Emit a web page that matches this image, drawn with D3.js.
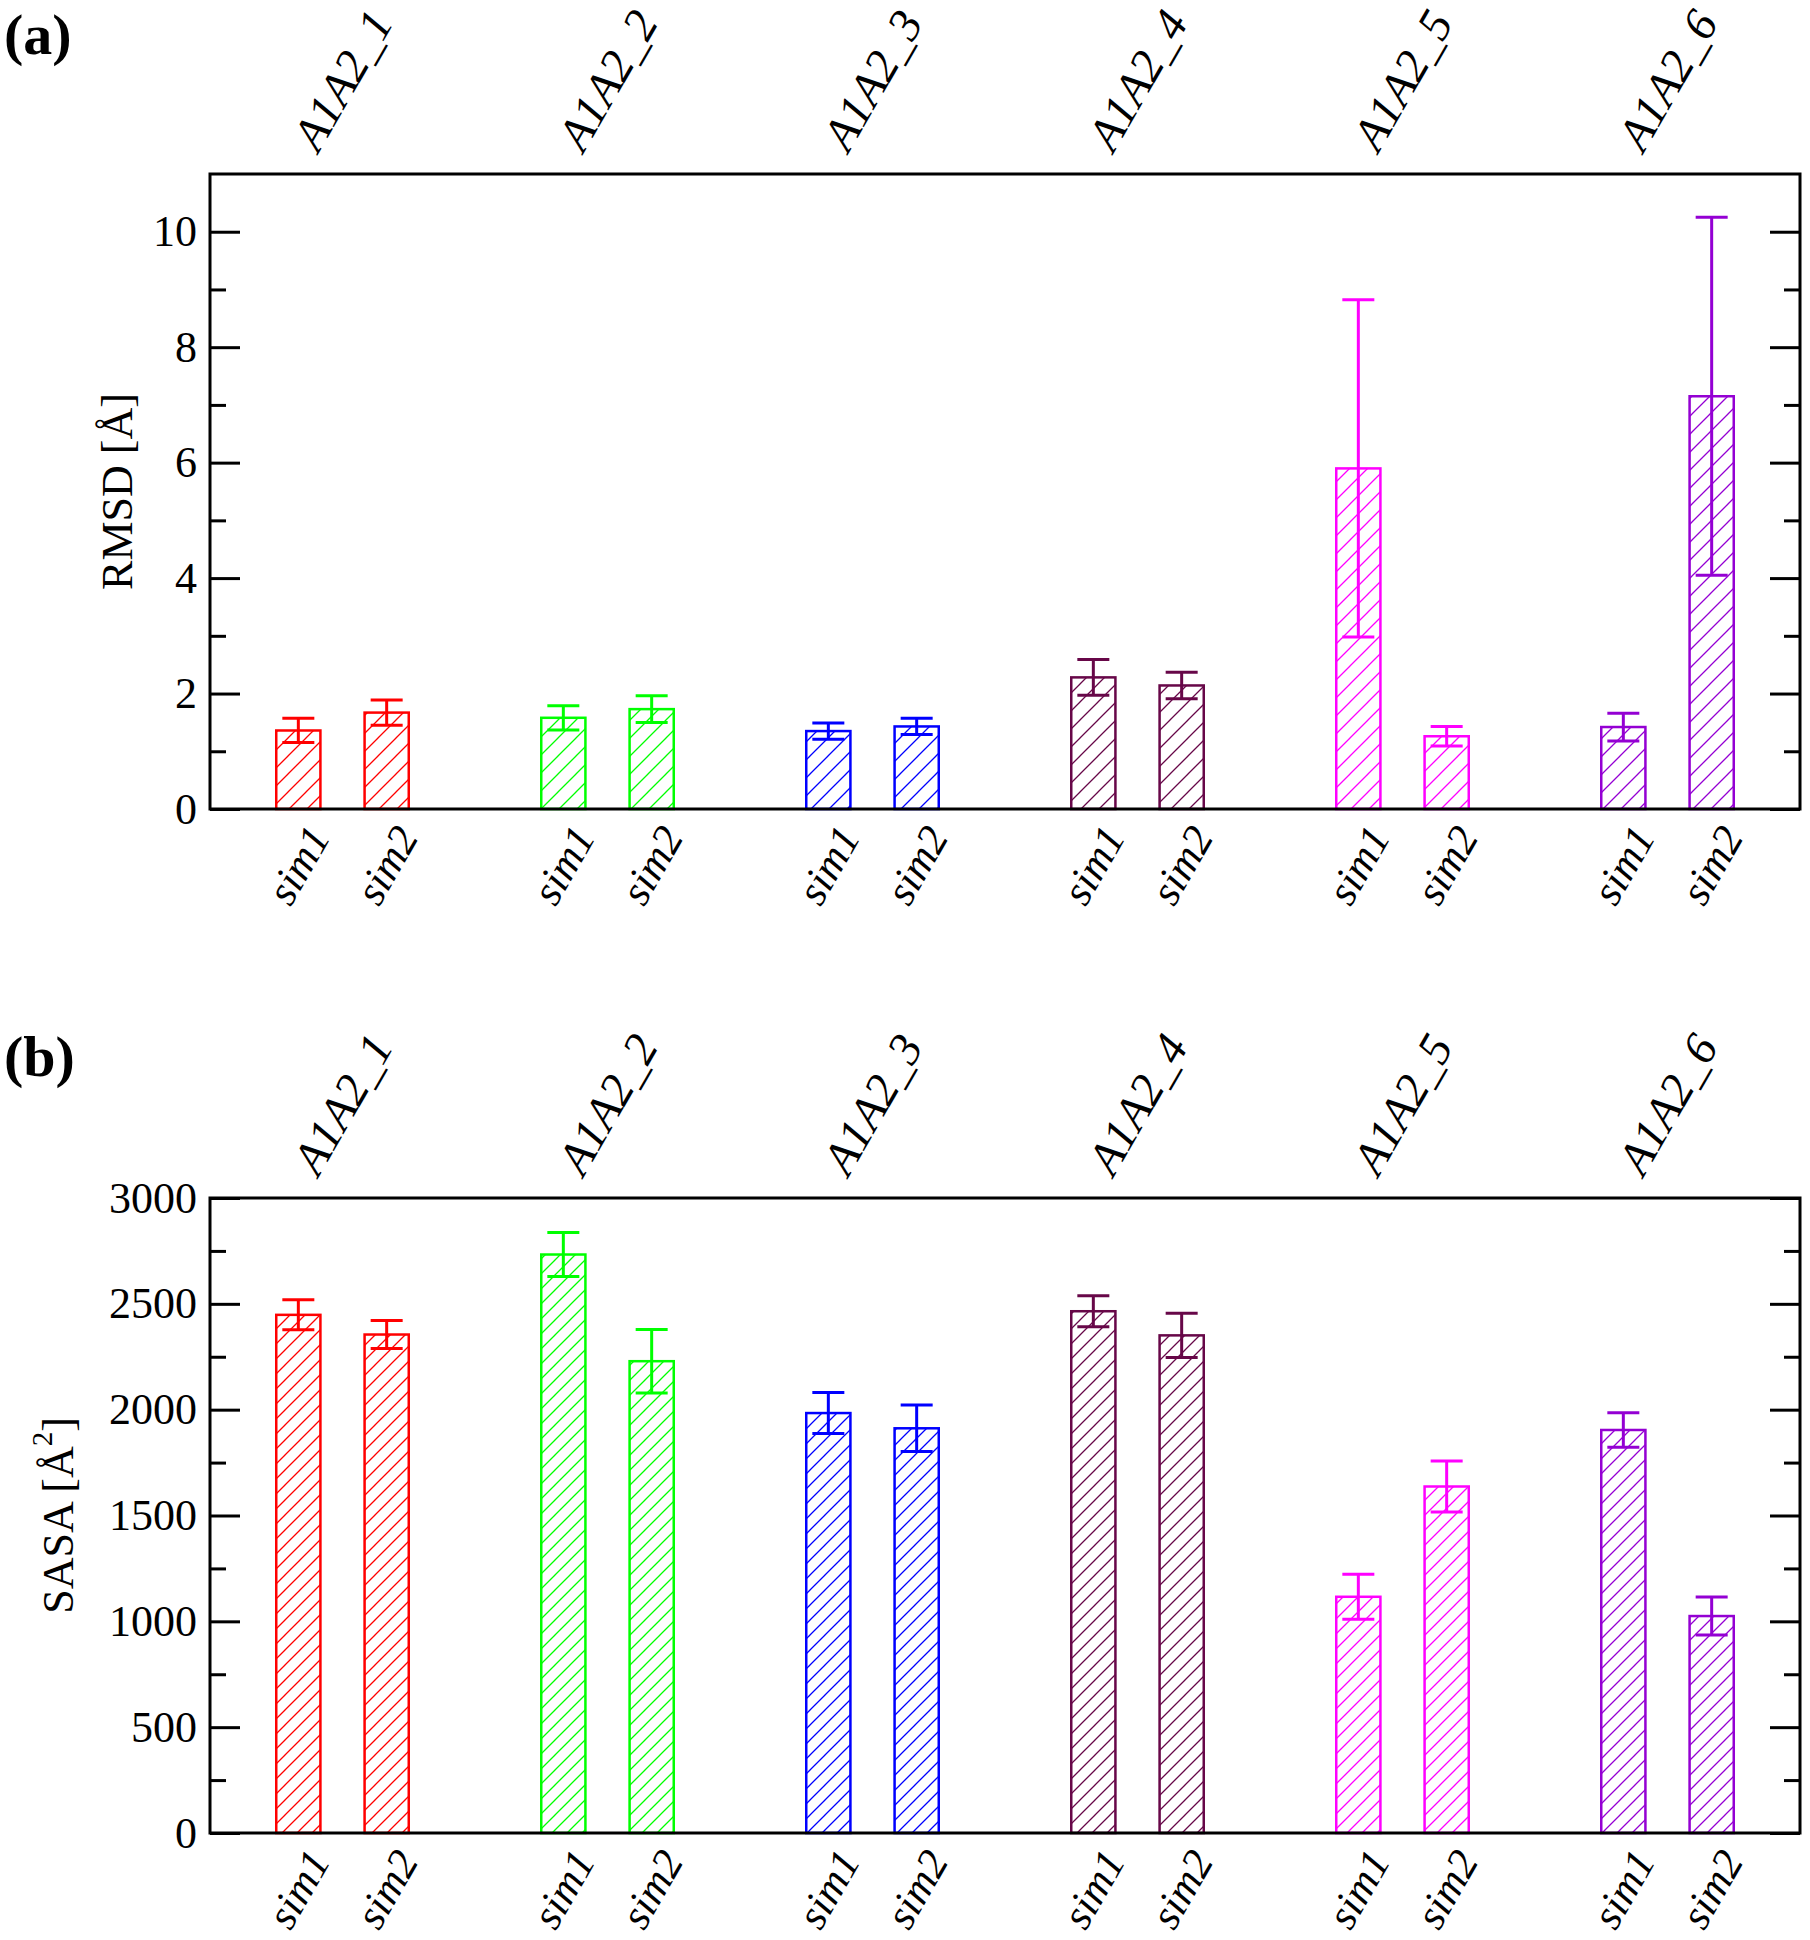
<!DOCTYPE html>
<html>
<head>
<meta charset="utf-8">
<script src="https://cdn.jsdelivr.net/npm/d3@7"></script>
<style>
  html, body { margin: 0; padding: 0; background: #ffffff; }
  svg { display: block; }
  text { font-family: "Liberation Serif", "Times New Roman", serif; fill: #000; }
</style>
</head>
<body>
<svg id="chart" width="1810" height="1940"></svg>
<script>
// ---------------- data ----------------
const groups = ["A1A2_1", "A1A2_2", "A1A2_3", "A1A2_4", "A1A2_5", "A1A2_6"];
const sims = ["sim1", "sim2"];
const colors = ["#ff0000", "#00ff00", "#0000ff", "#670748", "#ff00ff", "#9400d3"];

// RMSD [Å]
const rmsdSim1 = [1.36, 1.58, 1.35, 2.28, 5.90, 1.42];
const rmsdSim2 = [1.67, 1.73, 1.43, 2.14, 1.26, 7.15];
const rmsdErr1 = [0.21, 0.21, 0.14, 0.31, 2.92, 0.24];
const rmsdErr2 = [0.22, 0.23, 0.14, 0.23, 0.17, 3.10];

// SASA [Å^2]
const sasaSim1 = [2448, 2733, 1984, 2465, 1116, 1904];
const sasaSim2 = [2355, 2229, 1912, 2351, 1637, 1025];
const sasaErr1 = [71, 104, 97, 73, 106, 82];
const sasaErr2 = [66, 150, 110, 105, 120, 90];

const rmsdTicks = [0, 2, 4, 6, 8, 10];
const sasaTicks = [0, 500, 1000, 1500, 2000, 2500, 3000];

// ---------------- layout ----------------
const svg = d3.select("#chart");
const defs = svg.append("defs");
const X0 = 210, X1 = 1800;
const x = d3.scaleLinear().domain([0, 18]).range([X0, X1]);
const barW = x(0.5) - x(0);
const capW = 32;

function rows(m1, m2, e1, e2) {
  const out = [];
  groups.forEach((g, i) => {
    out.push({ g: i, s: 0, pos: 3 * i + 1, v: m1[i], e: e1[i] });
    out.push({ g: i, s: 1, pos: 3 * i + 2, v: m2[i], e: e2[i] });
  });
  return out;
}

function makePatterns(id, period) {
  colors.forEach((c, i) => {
    const p = defs.append("pattern")
      .attr("id", `${id}-hatch-${i}`)
      .attr("patternUnits", "userSpaceOnUse")
      .attr("width", period).attr("height", period);
    p.append("path")
      .attr("d", `M0,${period} L${period},0 M${-period / 2},${period / 2} L${period / 2},${-period / 2} M${period / 2},${period * 1.5} L${period * 1.5},${period / 2}`)
      .attr("stroke", c).attr("stroke-width", 1.3).attr("fill", "none");
  });
}

function panel(opt) {
  const { id, top, bottom, domain, ticks, minorStep, data, letter, letterY, ylabel, period } = opt;
  makePatterns(id, period);
  const y = d3.scaleLinear().domain(domain).range([bottom, top]);
  const g = svg.append("g").attr("id", id);

  const minor = d3.range(domain[0] + minorStep, domain[1], minorStep).filter(v => !ticks.includes(v));
  const leftAx = g.append("g").attr("transform", `translate(${X0},0)`)
    .call(d3.axisLeft(y).tickValues(ticks).tickSize(-30).tickPadding(13).tickFormat(d3.format("d")));
  leftAx.select(".domain").remove();
  leftAx.selectAll(".tick line").attr("stroke", "#000").attr("stroke-width", 3);
  leftAx.selectAll(".tick text").attr("font-size", 44).attr("font-family", "Liberation Serif").attr("fill", "#000");
  const leftMinor = g.append("g").attr("transform", `translate(${X0},0)`)
    .call(d3.axisLeft(y).tickValues(minor).tickSize(-16).tickFormat(""));
  leftMinor.select(".domain").remove();
  leftMinor.selectAll(".tick line").attr("stroke", "#000").attr("stroke-width", 3);

  const rightAx = g.append("g").attr("transform", `translate(${X1},0)`)
    .call(d3.axisRight(y).tickValues(ticks).tickSize(-30).tickFormat(""));
  rightAx.select(".domain").remove();
  rightAx.selectAll(".tick line").attr("stroke", "#000").attr("stroke-width", 3);
  const rightMinor = g.append("g").attr("transform", `translate(${X1},0)`)
    .call(d3.axisRight(y).tickValues(minor).tickSize(-16).tickFormat(""));
  rightMinor.select(".domain").remove();
  rightMinor.selectAll(".tick line").attr("stroke", "#000").attr("stroke-width", 3);

  // bars
  g.selectAll("rect.bar").data(data).join("rect")
    .attr("class", "bar")
    .attr("x", d => x(d.pos) - barW / 2)
    .attr("y", d => y(d.v))
    .attr("width", barW)
    .attr("height", d => y(0) - y(d.v))
    .attr("fill", d => `url(#${id}-hatch-${d.g})`)
    .attr("stroke", d => colors[d.g])
    .attr("stroke-width", 2.5);

  // error bars
  const eb = g.selectAll("g.err").data(data).join("g").attr("class", "err")
    .attr("stroke", d => colors[d.g]).attr("stroke-width", 3).attr("fill", "none");
  eb.append("line").attr("x1", d => x(d.pos)).attr("x2", d => x(d.pos))
    .attr("y1", d => y(d.v - d.e)).attr("y2", d => y(d.v + d.e));
  eb.append("line").attr("x1", d => x(d.pos) - capW / 2).attr("x2", d => x(d.pos) + capW / 2)
    .attr("y1", d => y(d.v + d.e)).attr("y2", d => y(d.v + d.e));
  eb.append("line").attr("x1", d => x(d.pos) - capW / 2).attr("x2", d => x(d.pos) + capW / 2)
    .attr("y1", d => y(d.v - d.e)).attr("y2", d => y(d.v - d.e));

  // frame
  g.append("rect").attr("x", X0).attr("y", top).attr("width", X1 - X0).attr("height", bottom - top)
    .attr("fill", "none").attr("stroke", "#000").attr("stroke-width", 3);

  // group labels (top)
  g.selectAll("text.grp").data(groups).join("text")
    .attr("class", "grp")
    .attr("transform", (d, i) => `translate(${x(3 * i + 1.5)},${top - 94}) rotate(-60)`)
    .attr("text-anchor", "middle").attr("dominant-baseline", "central")
    .attr("font-size", 47).attr("font-style", "italic")
    .text(d => d);

  // sim labels (bottom)
  g.selectAll("text.sim").data(data).join("text")
    .attr("class", "sim")
    .attr("transform", d => `translate(${x(d.pos)},${bottom + 56}) rotate(-60)`)
    .attr("text-anchor", "middle").attr("dominant-baseline", "central")
    .attr("font-size", 43).attr("font-style", "italic")
    .text(d => sims[d.s]);

  // y label
  const yl = g.append("text")
    .attr("transform", `translate(${ylabel.x},${(top + bottom) / 2}) rotate(-90)`)
    .attr("text-anchor", "middle").attr("dominant-baseline", "central")
    .attr("font-size", 44);
  ylabel.parts.forEach(p => {
    const t = yl.append("tspan").text(p.t);
    if (p.sup) t.attr("baseline-shift", "super").attr("font-size", 29);
  });

  // panel letter
  svg.append("text").attr("x", 4).attr("y", letterY)
    .attr("font-size", 58).attr("font-weight", "bold").text(letter);
}

panel({
  id: "pa", top: 174, bottom: 809, domain: [0, 11], ticks: rmsdTicks, minorStep: 1,
  data: rows(rmsdSim1, rmsdSim2, rmsdErr1, rmsdErr2),
  letter: "(a)", letterY: 54, period: 18,
  ylabel: { x: 117, parts: [{ t: "RMSD [Å]" }] }
});

panel({
  id: "pb", top: 1198, bottom: 1833, domain: [0, 3000], ticks: sasaTicks, minorStep: 250,
  data: rows(sasaSim1, sasaSim2, sasaErr1, sasaErr2),
  letter: "(b)", letterY: 1076, period: 15,
  ylabel: { x: 58, parts: [{ t: "SASA [Å" }, { t: "2", sup: true }, { t: "]" }] }
});
</script>
</body>
</html>
